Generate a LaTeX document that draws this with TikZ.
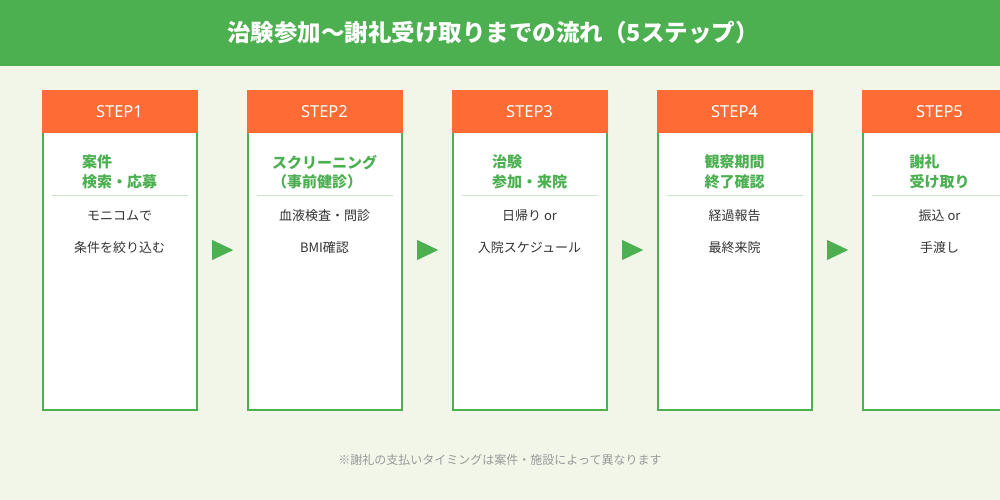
\documentclass[tikz,border=0pt]{standalone}
\usepackage{fontspec}
\setmainfont{Noto Sans CJK JP}
\newfontfamily\latinsans{Noto Sans}
\usetikzlibrary{shapes.geometric}
\definecolor{bg}{HTML}{F1F6E9}
\definecolor{hgreen}{HTML}{4CAF50}
\definecolor{orng}{HTML}{FF6B35}
\definecolor{sep}{HTML}{C8E6C9}
\definecolor{bodytxt}{HTML}{333333}
\definecolor{notetxt}{HTML}{999999}
\tikzset{
  card/.style={draw=hgreen, line width=2pt, fill=white, minimum width=154pt, minimum height=319pt, inner sep=0pt},
  cardhead/.style={fill=orng, minimum width=156pt, minimum height=42pt, inner sep=0pt, text=white, font=\latinsans\fontsize{16.5}{19}\selectfont},
  cardtitle/.style={text=hgreen, font=\fontsize{15}{19.5}\selectfont\bfseries, align=left, inner sep=0pt},
  bodyline/.style={text=bodytxt, font=\fontsize{13}{15}\selectfont, inner sep=0pt},
  sepline/.style={draw=sep, line width=1pt},
  flowarrow/.style={isosceles triangle, isosceles triangle apex angle=90, fill=hgreen, minimum height=21pt, minimum width=20pt, inner sep=0pt, isosceles triangle stretches, anchor=west}
}
\begin{document}
\begin{tikzpicture}[x=1pt,y=-1pt]
\useasboundingbox (0,0) rectangle (1000,500);
\clip (0,0) rectangle (1000,500);
\fill[bg] (0,0) rectangle (1000,500);
\fill[hgreen] (0,0) rectangle (1000,66);
\node[text=white, font=\fontsize{23.5}{27}\selectfont\bfseries] (title) at (493,33) {治験参加〜謝礼受け取りまでの流れ（5ステップ）};
% cards
\foreach \i/\t/\a/\b in {1/{案件\\検索・応募}/{モニコムで}/{条件を絞り込む},
                         2/{スクリーニング\\（事前健診）}/{血液検査・問診}/{BMI確認},
                         3/{治験\\参加・来院}/{日帰り or}/{入院スケジュール},
                         4/{観察期間\\終了確認}/{経過報告}/{最終来院},
                         5/{謝礼\\受け取り}/{振込 or}/{手渡し}} {
  \pgfmathsetmacro{\cx}{119.5+205*(\i-1)}
  \node[card] (card\i) at (\cx,250.5) {};
  \node[cardhead] (head\i) at (\cx,111.5) {STEP\i};
  \node[cardtitle] (ttl\i) at (\cx,172) {\t};
  \draw[sepline] ([xshift=10pt]card\i.west |- 0,195.5) coordinate (sl\i) -- ([xshift=-10pt]card\i.east |- 0,195.5) coordinate (sr\i);
  \node[bodyline] (ba\i) at (\cx,216) {\a};
  \node[bodyline] (bb\i) at (\cx,248) {\b};
}
\foreach \i in {1,2,3,4} {
  \pgfmathsetmacro{\ax}{212+205*(\i-1)}
  \node[flowarrow] (arr\i) at (\ax,250) {};
}
\node[text=notetxt, font=\fontsize{12}{14}\selectfont] (note) at (500,460) {※謝礼の支払いタイミングは案件・施設によって異なります};
\end{tikzpicture}
\end{document}
